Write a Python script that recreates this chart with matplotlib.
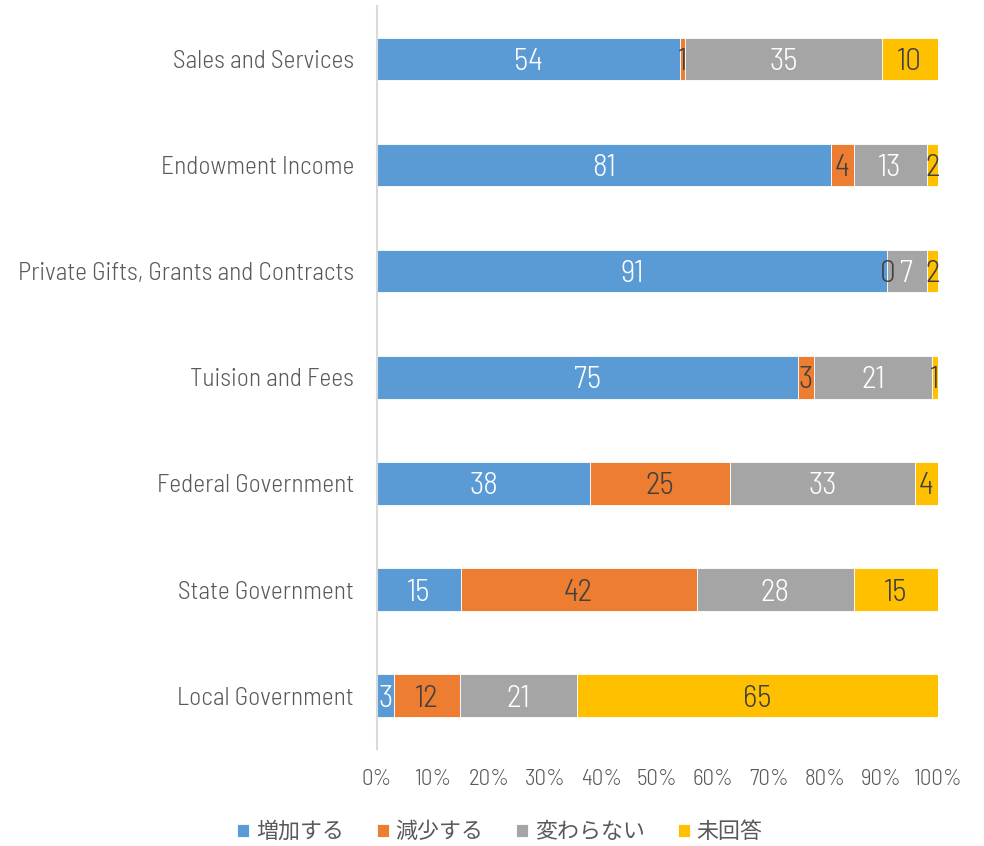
import matplotlib
matplotlib.use("Agg")
import matplotlib.pyplot as plt
import matplotlib.transforms as mtransforms
import numpy as np
from matplotlib.font_manager import FontProperties

categories = [
    "Sales and Services",
    "Endowment Income",
    "Private Gifts, Grants and Contracts",
    "Tuision and Fees",
    "Federal Government",
    "State Government",
    "Local Government",
]
series_names = ["増加する", "減少する", "変わらない", "未回答"]
increase = [54, 81, 91, 75, 38, 15, 3]
decrease = [1, 4, 0, 3, 25, 42, 12]
unchanged = [35, 13, 7, 21, 33, 28, 21]
no_answer = [10, 2, 2, 1, 4, 15, 65]
x_ticklabels = ["0%", "10%", "20%", "30%", "40%", "50%", "60%", "70%", "80%", "90%", "100%"]

colors = ["#5B9BD5", "#ED7D31", "#A5A5A5", "#FFC000"]
label_colors = ["white", "#404040", "white", "#404040"]
text_grey = "#595959"

def narrow(size, weight=300):
    return FontProperties(family=["Barlow Semi Condensed", "DejaVu Sans"], weight=weight,
                          stretch="semi-condensed", size=size)

legend_font = FontProperties(family=["Noto Sans CJK JP", "DejaVu Sans"], size=15.8)

data = np.array([increase, decrease, unchanged, no_answer], dtype=float)
totals = data.sum(axis=0)
shares = data / totals * 100

fig = plt.figure(figsize=(9.84, 8.46), dpi=100)
ax = fig.add_axes([0.383, 0.115, 0.570, 0.878])

# nudge value labels down a little so the digits sit on the bar's middle
label_tf = ax.transData + mtransforms.ScaledTranslation(0, -3 / 100, fig.dpi_scale_trans)

y = np.arange(len(categories))
left = np.zeros(len(categories))
for i, name in enumerate(series_names):
    ax.barh(y, shares[i], left=left, height=0.4, color=colors[i],
            edgecolor="white", linewidth=0.6, label=name)
    for j in range(len(categories)):
        cx = left[j] + shares[i][j] / 2
        ax.text(cx, y[j], f"{int(data[i][j])}", ha="center", va="center",
                color=label_colors[i], fontproperties=narrow(22.5),
                transform=label_tf)
    left += shares[i]

ax.set_ylim(len(categories) - 0.5, -0.5)
ax.set_xlim(0, 100)
ax.set_yticks(y)
ax.set_yticklabels(categories, color=text_grey, fontproperties=narrow(18.3))
ax.set_xticks(np.arange(0, 101, 10))
ax.set_xticklabels(x_ticklabels, color=text_grey, fontproperties=narrow(16.5))
ax.tick_params(axis="both", length=0)
ax.tick_params(axis="x", pad=14.5)
ax.tick_params(axis="y", pad=16.5)
for s in ["top", "right", "bottom"]:
    ax.spines[s].set_visible(False)
ax.spines["left"].set_color("#D9D9D9")
ax.spines["left"].set_linewidth(1.5)

handles, labels = ax.get_legend_handles_labels()
fig.legend(handles, labels, loc="center", bbox_to_anchor=(0.508, 0.0165),
           ncol=4, frameon=False, labelcolor=text_grey, prop=legend_font,
           handlelength=0.55, handleheight=0.55, handletextpad=0.3,
           columnspacing=1.5)

fig.savefig("out.png", dpi=100)
